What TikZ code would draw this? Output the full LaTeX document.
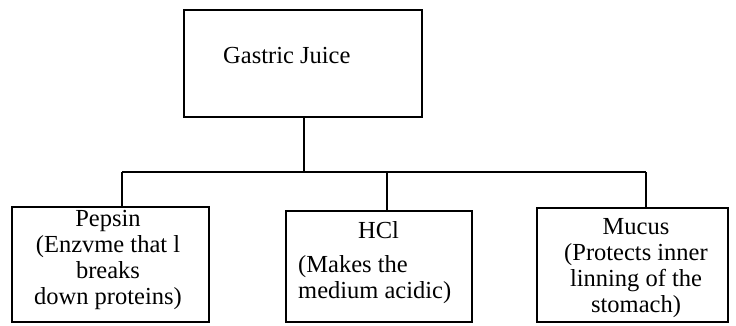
\documentclass[tikz,border=0pt]{standalone}
\usepackage{fontspec}
\setmainfont{Liberation Serif}
\usetikzlibrary{arrows.meta, positioning}

\begin{document}
\begin{tikzpicture}[x=1pt, y=-1pt,
        box/.style={draw, line width=1.2pt, inner sep=0pt},
        txt/.style={inner sep=0pt, font=\fontsize{24.5}{25.7}\selectfont},
        link/.style={line width=1.2pt},
        >=Stealth
    ]
        \useasboundingbox (0,0) rectangle (736,325);

        % boxes
        \node[box, minimum width=238pt, minimum height=107pt] (gj) at (303,63.5) {};
        \node[box, minimum width=197pt, minimum height=115pt] (pep) at (110.5,264.5) {};
        \node[box, minimum width=186pt, minimum height=111pt] (hcl) at (379,266.5) {};
        \node[box, minimum width=191pt, minimum height=114pt] (muc) at (632.5,265) {};

        % texts (base = last line)
        \node[txt, anchor=base west] (gjtext) at (223,63) {Gastric Juice};
        \node[txt, align=center, anchor=base] (peptext) at (108,304)
            {Pepsin\\(Enzvme that l\\breaks\\down proteins)};
        \node[txt, align=left, anchor=base west] (hcltext) at (298,298)
            {\hspace{60pt}HCl\\[8pt](Makes the\\medium acidic)};
        \node[txt, align=center, anchor=base] (muctext) at (636,312)
            {Mucus\\(Protects inner\\linning of the\\stomach)};

        % connectors
        \coordinate (bus) at (304,172);
        \coordinate (pepdrop) at (122,172);
        \coordinate (hcldrop) at (387,172);
        \coordinate (mucdrop) at (646,172);
        \draw[link] (gj.south -| bus) -- (bus);
        \draw[link] (pepdrop) -- (mucdrop);
        \draw[link] (pepdrop) -- (pepdrop |- pep.north);
        \draw[link] (hcldrop) -- (hcldrop |- hcl.north);
        \draw[link] (mucdrop) -- (mucdrop |- muc.north);
    \end{tikzpicture}
\end{document}
